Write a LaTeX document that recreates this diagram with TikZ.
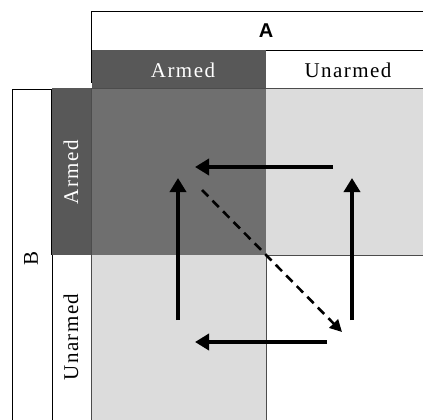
\documentclass[tikz,border=0pt]{standalone}
\usepackage{fontspec}
\setmainfont{Liberation Serif}[LetterSpace=7]
\newfontfamily\hfont{Liberation Sans}
\usetikzlibrary{arrows.meta}
\definecolor{hdark}{HTML}{585858}
\definecolor{cdark}{HTML}{6F6F6F}
\definecolor{clight}{HTML}{DCDCDC}
\tikzset{
  lbl/.style={font=\fontsize{21}{24}\selectfont, inner sep=0pt},
  bigarrow/.style={line width=4.5pt, -{Triangle[length=14pt,width=16pt]}},
  dasharrow/.style={line width=2.6pt, dash pattern=on 9pt off 6pt, -{Triangle[length=12pt,width=12pt]}},
  frame/.style={draw=black, line width=1pt}
}
\begin{document}
\begin{tikzpicture}[x=1pt,y=-1pt]
\useasboundingbox (0,0) rectangle (423,420);
\fill[white] (0,0) rectangle (423,420);
% cells
\fill[cdark] (91,88) rectangle (266,255);
\fill[clight] (266,88) rectangle (423,255);
\fill[clight] (91,255) rectangle (266,420);
% headers
\fill[hdark] (92,50) rectangle (266,88);
\fill[hdark] (52,88) rectangle (91,255);
% frames
\draw[frame] (423,12) -- (91,12) -- (91,83);
\draw[frame, line width=0.7pt] (266,50) -- (423,50);
\draw[frame, line width=0.7pt] (52,255) -- (52,420);
\draw[frame, line width=0.7pt] (12,420) -- (12,89) -- (51,89) -- (51,255);
\draw[line width=0.8pt, black!70] (266,255) -- (266,420);
\draw[line width=0.8pt, black!70] (266,255) -- (423,255);
\draw[line width=0.8pt, black!70] (91,88) -- (423,88);
\draw[line width=0.8pt, black!70] (91,88) -- (91,420);
% labels
\node[lbl, font=\hfont\bfseries\fontsize{20}{22}\selectfont] (labA) at (266,31) {A};
\node[lbl] (labB) at (31,258) [rotate=90] {B};
\node[lbl, white] (aArmed) at (183,70) {Armed};
\node[lbl] (aUnarmed) at (348,70) {Unarmed};
\node[lbl, white, rotate=90] (bArmed) at (71,172) {Armed};
\node[lbl, rotate=90] (bUnarmed) at (71,337) {Unarmed};
% arrow anchors
\coordinate (t1) at (333,167);
\coordinate (t2) at (195,167);
\coordinate (l1) at (178,320);
\coordinate (l2) at (178,178);
\coordinate (r1) at (352,320);
\coordinate (r2) at (352,178);
\coordinate (b1) at (327,342);
\coordinate (b2) at (195,342);
\coordinate (d1) at (202,190);
\coordinate (d2) at (342,332);
\draw[bigarrow] (t1) -- (t2);
\draw[bigarrow] (l1) -- (l2);
\draw[bigarrow] (r1) -- (r2);
\draw[bigarrow] (b1) -- (b2);
\draw[dasharrow] (d1) -- (d2);
\end{tikzpicture}
\end{document}
